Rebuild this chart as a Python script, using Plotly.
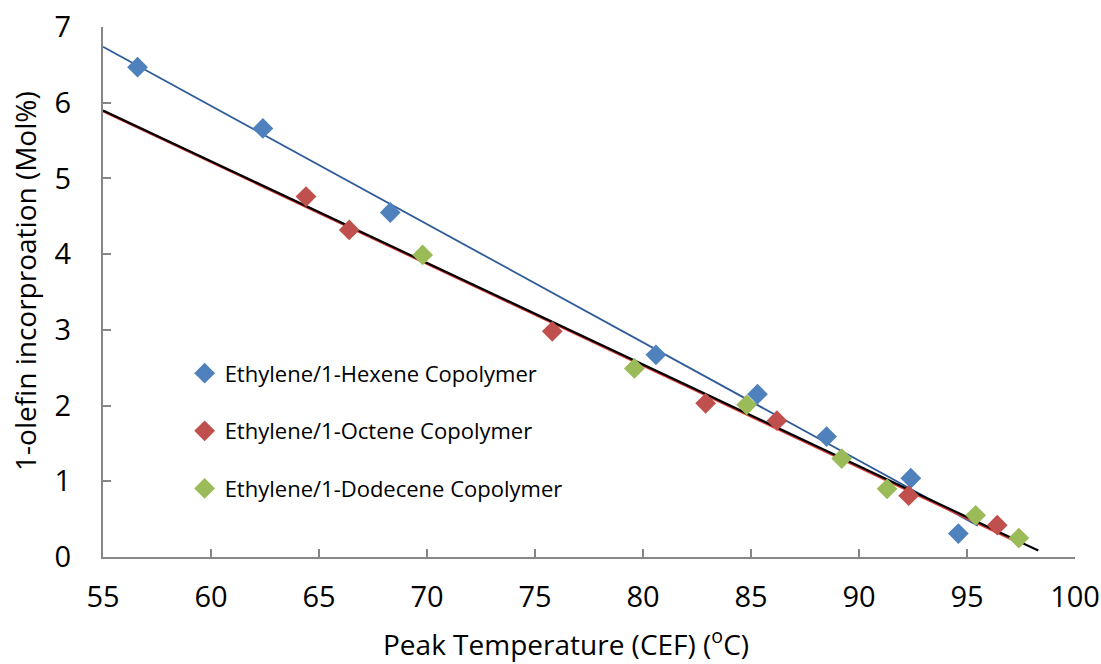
import numpy as np
import plotly.graph_objects as go

# Peak temperature (CEF, °C) and 1-olefin incorporation (mol%)
hexene_t = [56.6, 62.4, 68.3, 80.6, 85.3, 88.5, 92.4, 94.6]
hexene_mol = [6.47, 5.66, 4.55, 2.67, 2.15, 1.59, 1.04, 0.31]

octene_t = [64.4, 66.4, 75.8, 82.9, 86.2, 92.3, 96.4]
octene_mol = [4.76, 4.32, 2.98, 2.03, 1.80, 0.81, 0.42]

dodecene_t = [69.8, 79.6, 84.8, 89.2, 91.3, 95.4, 97.4]
dodecene_mol = [3.99, 2.49, 2.01, 1.30, 0.90, 0.55, 0.25]

# x-extent of each linear trendline
hexene_fit_range = [55, 95.5]
octene_fit_range = [55, 97.4]
combined_fit_range = [55, 98.3]

x_ticks = [55, 60, 65, 70, 75, 80, 85, 90, 95, 100]
y_ticks = [0, 1, 2, 3, 4, 5, 6, 7]

x_title = "Peak Temperature (CEF) (<sup>o</sup>C)"
y_title = "1-olefin incorproation (Mol%)"

FONT = "Open Sans"


def trend(xs, ys, xr):
    k, b = np.polyfit(xs, ys, 1)
    xr = np.array(xr, dtype=float)
    return xr, k * xr + b


fig = go.Figure()

hx, hy = trend(hexene_t, hexene_mol, hexene_fit_range)
ox, oy = trend(octene_t, octene_mol, octene_fit_range)
cx, cy = trend(octene_t + dodecene_t, octene_mol + dodecene_mol, combined_fit_range)

fig.add_trace(go.Scatter(x=hx, y=hy, mode="lines", line=dict(color="#2E5B9A", width=1.8),
                         showlegend=False, hoverinfo="skip"))
fig.add_trace(go.Scatter(x=ox, y=oy, mode="lines", line=dict(color="#E0403A", width=2.8),
                         showlegend=False, hoverinfo="skip"))
fig.add_trace(go.Scatter(x=cx, y=cy, mode="lines", line=dict(color="#000000", width=2.2),
                         showlegend=False, hoverinfo="skip"))

series = [
    ("Ethylene/1-Hexene Copolymer", hexene_t, hexene_mol, "#4F81BD"),
    ("Ethylene/1-Octene Copolymer", octene_t, octene_mol, "#C0504D"),
    ("Ethylene/1-Dodecene Copolymer", dodecene_t, dodecene_mol, "#9BBB59"),
]
for i, (name, xs, ys, col) in enumerate(series):
    fig.add_trace(go.Scatter(
        x=xs, y=ys, mode="markers", name=name, legendgroup=f"g{i}",
        marker=dict(symbol="diamond", size=16, color=col, line=dict(width=0)),
    ))

axis_common = dict(
    showline=True, linecolor="#868686", linewidth=2,
    ticks="inside", ticklen=8, tickwidth=2, tickcolor="#868686",
    showgrid=False, zeroline=False, mirror=False, automargin=False,
    tickfont=dict(family=FONT, size=29, color="#000000"),
)

fig.update_layout(
    width=1101, height=664,
    margin=dict(l=103, r=26, t=27, b=107),
    paper_bgcolor="white", plot_bgcolor="white",
    font=dict(family=FONT, color="#000000"),
    xaxis=dict(range=[55, 100], tickvals=x_ticks, ticklabelstandoff=13, **axis_common),
    yaxis=dict(range=[0, 7], tickvals=y_ticks, ticklabelstandoff=24, **axis_common),
    legend=dict(x=0.084, y=0.386, xanchor="left", yanchor="top",
                font=dict(family=FONT, size=22), tracegroupgap=26,
                bgcolor="rgba(0,0,0,0)", itemwidth=30),
    annotations=[
        dict(text=x_title, xref="paper", yref="paper", x=0.476, y=-0.161,
             xanchor="center", yanchor="middle", showarrow=False,
             font=dict(family=FONT, size=28, color="#000000")),
        dict(text=y_title, xref="paper", yref="paper", x=-0.0802, y=0.521,
             xanchor="center", yanchor="middle", showarrow=False, textangle=-90,
             font=dict(family=FONT, size=28, color="#000000")),
    ],
)

fig.write_html("out.html")
